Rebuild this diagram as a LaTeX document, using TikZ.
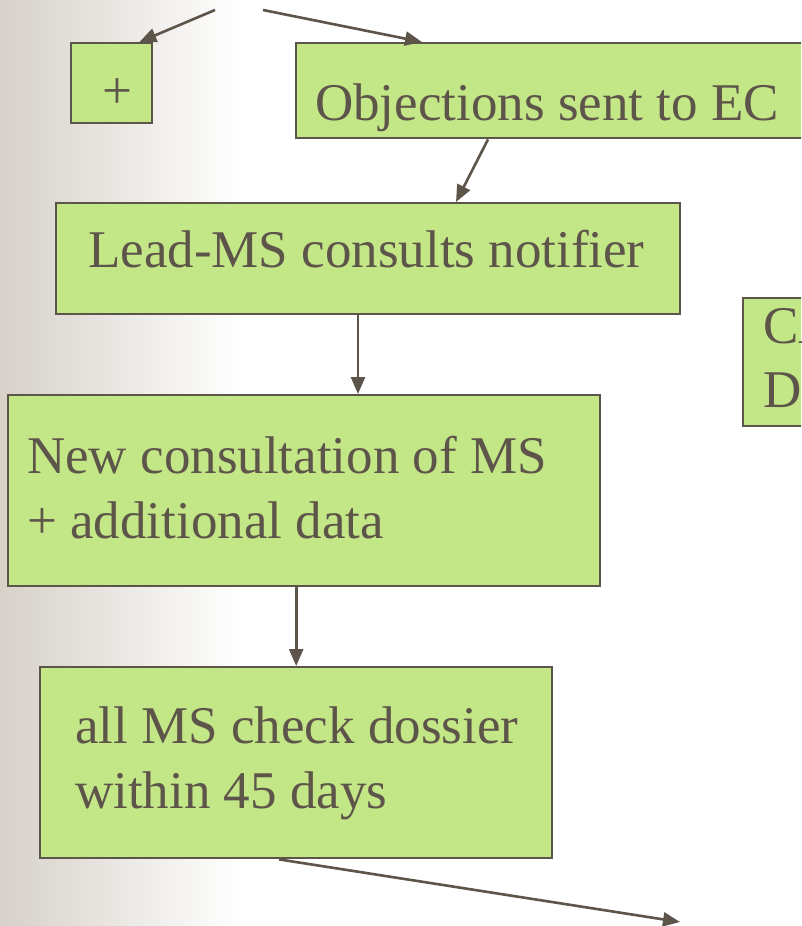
\documentclass[tikz,border=0pt]{standalone}
\usepackage{fontspec}
\setmainfont{Liberation Serif}
\usetikzlibrary{arrows.meta}

\definecolor{ink}{RGB}{93,84,74}
\definecolor{leaf}{RGB}{195,230,135}
\definecolor{paper}{RGB}{214,209,201}

\tikzset{
  box/.style={draw=ink, fill=leaf, line width=2.4pt, rectangle, inner sep=0pt, anchor=north west},
  txt/.style={text=ink, inner sep=0pt, anchor=base west, font=\fontsize{53}{64}\selectfont},
  arr/.style={draw=ink, line width=2.6pt, -{Triangle[length=17pt,width=14pt]}}
}

\begin{document}
\begin{tikzpicture}[x=1pt, y=-1pt]
	\useasboundingbox (0,0) rectangle (801,926);
	\clip (0,0) rectangle (801,926);
	\fill[white] (0,0) rectangle (801,926);
	\shade[left color=paper, right color=white] (0,0) rectangle (240,926);

	\node[box, minimum width=81pt, minimum height=80pt] (plus) at (70,42) {};
	\node[txt, anchor=base] (plustxt) at (117.5,108) {+};
	\node[box, minimum width=530pt, minimum height=95pt] (obj) at (295,42) {};
	\node[txt] (objtxt) at (315,120) {Objections sent to EC};
	\node[box, minimum width=624pt, minimum height=111pt] (lead) at (55,202) {};
	\node[txt] (leadtxt) at (88,267) {Lead-MS consults notifier};
	\node[box, minimum width=120pt, minimum height=128pt] (ca) at (742,297) {};
	\node[txt] (catxt) at (763,343) {CA};
	\node[txt] (dtxt) at (763,407) {D};
	\node[box, minimum width=592pt, minimum height=191pt] (new) at (7,394) {};
	\node[txt] (newtxt) at (27,473) {New consultation of MS};
	\node[txt] (addtxt) at (27,538) {+ additional data};
	\node[box, minimum width=512pt, minimum height=191pt] (all) at (39,666) {};
	\node[txt] (alltxt) at (75,743) {all MS check dossier};
	\node[txt] (daystxt) at (75,808) {within 45 days};

	\coordinate (in1) at (215,10);
	\coordinate (in2) at (263,10);
	\coordinate (out) at (680,922);

	\draw[arr] (in1) -- ([xshift=-14pt]plus.north east);
	\draw[arr] (in2) -- ([xshift=127pt]obj.north west);
	\draw[arr] ([xshift=193pt]obj.south west) -- ([xshift=401pt]lead.north west);
	\draw[arr] ([xshift=303pt]lead.south west) -- ([xshift=303pt]lead.south west |- new.north);
	\draw[arr] (all.north |- new.south) -- (all.north);
	\draw[arr] ([xshift=-17pt]all.south) -- (out);
\end{tikzpicture}
\end{document}
